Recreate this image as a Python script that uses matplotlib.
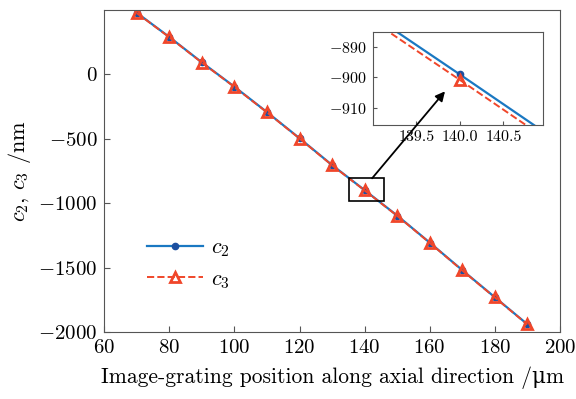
import matplotlib
matplotlib.use('Agg')
import matplotlib.pyplot as plt
from matplotlib.patches import Rectangle

matplotlib.rcParams['font.family'] = ['cmr10', 'DejaVu Serif']
matplotlib.rcParams['mathtext.fontset'] = 'cm'
matplotlib.rcParams['axes.formatter.use_mathtext'] = True
matplotlib.rcParams['font.size'] = 15

# data
position = [70, 80, 90, 100, 110, 120, 130, 140, 150, 160, 170, 180, 190]
c2 = [478, 290, 93, -96, -293, -496, -704, -899, -1096, -1306, -1520, -1730, -1940]
c3 = [476, 288, 91, -98, -295, -498, -706, -900.8, -1098, -1308, -1522, -1732, -1942]

blue = '#1a78c2'
red = '#f0462a'

fig = plt.figure(figsize=(5.76, 3.99), dpi=100)
ax = fig.add_axes([0.181, 0.168, 0.791, 0.807])

ax.plot(position, c2, '-', color=blue, lw=1.6, marker='o', ms=4.5,
        mfc='#1c4fa0', mec='#1c4fa0', label='$c_2$')
ax.plot(position, c3, '--', color=red, lw=1.4, marker='^', ms=7,
        mfc='none', mec=red, mew=2.0, label='$c_3$')

ax.set_xlim(60, 200)
ax.set_ylim(-2000, 500)
ax.set_xticks(range(60, 201, 20))
ax.set_yticks([-2000, -1500, -1000, -500, 0])
ax.tick_params(direction='in', length=4, color='#555555', pad=5)
for s in ax.spines.values():
    s.set_color('#555555')
ax.set_xlabel('Image-grating position along axial direction /\u03bcm', fontsize=15.5, labelpad=7)
ax.set_ylabel('$c_2$, $c_3$ /nm', fontsize=16, labelpad=4)

leg = ax.legend(loc='center left', bbox_to_anchor=(0.05, 0.21), frameon=False,
                handlelength=2.5, handletextpad=0.4, labelspacing=0.45, fontsize=16)

# zoom box
ax.add_patch(Rectangle((135.3, -980), 10.7, 173, fill=False, ec='k', lw=1.2, zorder=5))

# inset
axin = fig.add_axes([0.647, 0.687, 0.295, 0.234])
axin.plot(position, c2, '-', color=blue, lw=1.6, marker='o', ms=4.5,
          mfc='#1c4fa0', mec='#1c4fa0')
axin.plot(position, c3, '--', color=red, lw=1.4, marker='^', ms=7,
          mfc='none', mec=red, mew=2.0)
axin.set_xlim(139.0, 140.95)
axin.set_ylim(-915.7, -884.8)
axin.set_xticks([139.5, 140.0, 140.5])
axin.set_xticklabels(['139.5', '140.0', '140.5'])
axin.set_yticks([-910, -900, -890])
axin.tick_params(direction='in', length=3, labelsize=11.5, color='#555555', pad=4)
for s in axin.spines.values():
    s.set_color('#555555')

axin.annotate('', xy=(139.83, -904.6), xycoords='data',
              xytext=(142.3, -807), textcoords=ax.transData,
              arrowprops=dict(arrowstyle='-|>', color='k', lw=1.3, mutation_scale=14,
                              shrinkA=0, shrinkB=0))

plt.savefig('out.png', dpi=100)
